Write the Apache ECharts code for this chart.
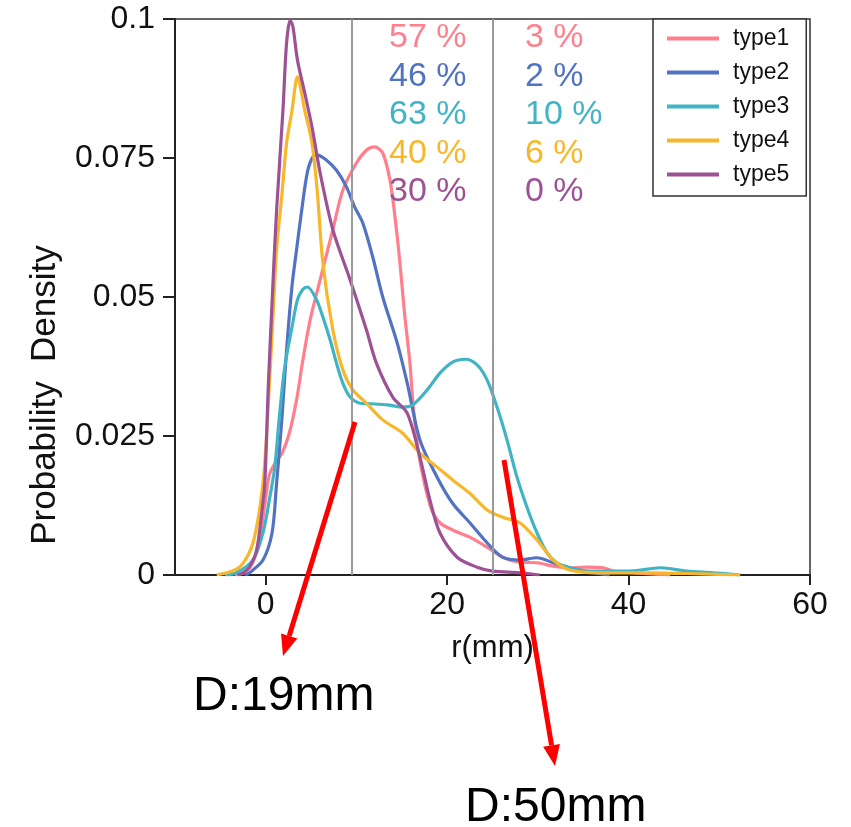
<!DOCTYPE html>
<html>
<head>
<meta charset="utf-8">
<script src="https://cdn.jsdelivr.net/npm/echarts@6/dist/echarts.min.js"></script>
<style>
  html, body { margin: 0; padding: 0; background: #fff; }
  #chart { width: 851px; height: 827px; }
</style>
</head>
<body>
<div id="chart"></div>
<script>
// names / colours
const typeNames = ['type1', 'type2', 'type3', 'type4', 'type5']
const typeColors = ['#ff7f8c', '#5272c2', '#40b4c4', '#f8b72a', '#9c5294']

// density curves, [r(mm), density]
const type1 = [[-3.4, 0], [-2.3, 0.0005], [-1.4, 0.0023], [-0.7, 0.0063], [-0.1, 0.0126], [0.4, 0.018],
  [1.1, 0.0203], [1.8, 0.0219], [2.6, 0.0255], [3.4, 0.0315], [4.1, 0.0387], [4.9, 0.0459], [6.0, 0.0531],
  [7.4, 0.0621], [8.5, 0.0692], [10.0, 0.0741], [11.1, 0.0764], [12.0, 0.077], [12.9, 0.0759], [13.7, 0.071],
  [14.2, 0.0651], [14.8, 0.0561], [15.3, 0.0471], [15.9, 0.0381], [16.2, 0.0315], [16.8, 0.0225], [17.5, 0.0165],
  [18.3, 0.0117], [19.2, 0.0094], [20.6, 0.0081], [22.5, 0.0068], [24.4, 0.005], [26.1, 0.0032], [28.0, 0.0023],
  [29.9, 0.0022], [31.7, 0.0016], [33.5, 0.0013], [35.4, 0.0014], [37.2, 0.0013], [38.3, 0.0007], [39.8, 0.0005],
  [42.4, 0.0002], [44.6, 0]]
const type2 = [[-2.3, 0], [-1.8, 0.0004], [-0.3, 0.0027], [0.7, 0.0076], [1.2, 0.0165], [1.8, 0.0284],
  [2.3, 0.0405], [2.9, 0.052], [3.4, 0.0585], [4.0, 0.066], [4.6, 0.0725], [5.2, 0.0752], [5.7, 0.0755],
  [6.7, 0.0746], [7.8, 0.0728], [8.9, 0.0698], [9.8, 0.0662], [10.7, 0.0633], [11.8, 0.0572], [12.9, 0.05],
  [14.5, 0.0417], [15.6, 0.0345], [17.0, 0.0243], [18.9, 0.0176], [20.6, 0.0129], [22.5, 0.0094], [24.4, 0.0058],
  [26.1, 0.0032], [28.0, 0.0027], [29.9, 0.0031], [31.7, 0.0022], [33.5, 0.0013], [35.7, 0.0005], [37.9, 0]]
const type3 = [[-4.5, 0], [-3.2, 0.0004], [-1.4, 0.0027], [-0.3, 0.0076], [0.4, 0.0135], [1.0, 0.0194],
  [1.5, 0.0284], [2.1, 0.0374], [2.9, 0.0446], [3.5, 0.0495], [4.1, 0.0514], [4.6, 0.0518], [5.6, 0.0495],
  [6.3, 0.0464], [7.1, 0.0423], [7.8, 0.0381], [8.5, 0.0345], [9.3, 0.032], [10.4, 0.0309], [11.5, 0.0308],
  [13.4, 0.0306], [15.1, 0.0302], [16.2, 0.0306], [17.8, 0.0333], [19.2, 0.0363], [20.6, 0.0383], [22.0, 0.0388],
  [23.3, 0.0378], [24.4, 0.0351], [25.5, 0.0302], [26.6, 0.0243], [27.7, 0.0176], [28.8, 0.0122], [29.9, 0.0076],
  [31.0, 0.004], [32.1, 0.0022], [33.5, 0.0013], [35.7, 0.0007], [40.2, 0.0007], [43.5, 0.0013], [46.4, 0.0007],
  [49.3, 0.0004], [52.3, 0]]
const type4 = [[-5.4, 0], [-2.9, 0.0014], [-1.4, 0.0058], [-0.3, 0.0165], [0.2, 0.0284], [0.8, 0.0464],
  [1.2, 0.0585], [1.8, 0.0687], [2.3, 0.0777], [2.9, 0.0836], [3.5, 0.0896], [4.3, 0.0836], [5.1, 0.0777],
  [5.7, 0.0687], [6.3, 0.0561], [7.4, 0.0441], [8.5, 0.0369], [9.6, 0.0333], [11.1, 0.0309], [12.9, 0.0279],
  [15.1, 0.0255], [17.0, 0.0219], [18.9, 0.0194], [20.6, 0.0171], [22.5, 0.0147], [24.4, 0.0117], [26.1, 0.0104],
  [28.0, 0.0094], [29.9, 0.0063], [31.7, 0.0027], [33.5, 0.0009], [36.8, 0.0004], [42.4, 0.0004], [47.9, 0.0002],
  [52.3, 0]]
const type5 = [[-3.1, 0], [-2.5, 0.0004], [-1.8, 0.0014], [-1.0, 0.0045], [-0.4, 0.0117], [-0.1, 0.0165],
  [0.3, 0.0345], [0.8, 0.0525], [1.2, 0.0656], [1.9, 0.0836], [2.3, 0.0957], [2.7, 0.0998], [3.0, 0.0986],
  [3.5, 0.0926], [4.3, 0.0867], [5.1, 0.0806], [6.0, 0.0723], [7.4, 0.0621], [9.3, 0.0531], [11.1, 0.0441],
  [12.2, 0.0381], [14.0, 0.032], [15.6, 0.0291], [17.0, 0.0212], [18.1, 0.0135], [19.2, 0.0076], [21.1, 0.0032],
  [23.3, 0.0014], [25.0, 0.0007], [28.0, 0.0004], [30.2, 0]]
const curves = [type1, type2, type3, type4, type5]

// share below 9.5 mm and above 25 mm
const pctSmall = [57, 46, 63, 40, 30]
const pctLarge = [3, 2, 10, 6, 0]
const cutLines = [9.5, 25]
const cutLabels = ['D:19mm', 'D:50mm']

const xTicks = [0, 20, 40, 60]

const font = 'Liberation Sans, Arial, Helvetica, sans-serif'

// arrows drawn in pixels, start -> tip
const arrows = [
  { from: [355, 422], to: [283, 656], label: [193, 697] },
  { from: [504, 460], to: [555, 766], label: [465, 808] }
]

function arrowGraphics () {
  let out = []
  arrows.forEach((a, i) => {
    let dx = a.to[0] - a.from[0]
    let dy = a.to[1] - a.from[1]
    let len = Math.sqrt(dx * dx + dy * dy)
    let ux = dx / len
    let uy = dy / len
    let headLen = 21
    let half = 8.5
    let bx = a.to[0] - ux * headLen
    let by = a.to[1] - uy * headLen
    out.push({
      type: 'line',
      shape: { x1: a.from[0], y1: a.from[1], x2: bx, y2: by },
      style: { stroke: '#ff0000', lineWidth: 5 },
      z: 100
    })
    out.push({
      type: 'polygon',
      shape: { points: [[a.to[0], a.to[1]], [bx - uy * half, by + ux * half], [bx + uy * half, by - ux * half]] },
      style: { fill: '#ff0000' },
      z: 100
    })
    out.push({
      type: 'text',
      x: a.label[0],
      y: a.label[1],
      style: { text: cutLabels[i], font: '48px ' + font, fill: '#000', textAlign: 'left', textVerticalAlign: 'middle' },
      z: 100
    })
  })
  return out
}

function pctGraphics () {
  let out = []
  pctSmall.forEach((v, i) => {
    out.push({
      type: 'text', x: 389, y: 38 + i * 38.4,
      style: { text: v + ' %', font: '34px ' + font, fill: typeColors[i], textAlign: 'left', textVerticalAlign: 'middle' },
      z: 50
    })
    out.push({
      type: 'text', x: 525, y: 38 + i * 38.4,
      style: { text: pctLarge[i] + ' %', font: '34px ' + font, fill: typeColors[i], textAlign: 'left', textVerticalAlign: 'middle' },
      z: 50
    })
  })
  return out
}

let chart = echarts.init(document.getElementById('chart'), null, { renderer: 'canvas' })

let series = curves.map((c, i) => ({
  name: typeNames[i],
  type: 'line',
  data: c,
  smooth: 0.3,
  showSymbol: false,
  symbol: 'none',
  lineStyle: { color: typeColors[i], width: 3.2 },
  itemStyle: { color: typeColors[i] },
  z: 3
}))

series.push({
  name: 'cuts',
  type: 'line',
  data: [],
  silent: true,
  z: 1,
  markLine: {
    silent: true,
    symbol: 'none',
    label: { show: false },
    lineStyle: { color: '#9a9a9a', width: 2, type: 'solid' },
    data: cutLines.map(v => ({ xAxis: v }))
  }
})

let option = {
  animation: false,
  backgroundColor: '#fff',
  textStyle: { fontFamily: font },
  grid: {
    left: 175,
    right: 41,
    top: 19,
    bottom: 252,
    show: true,
    borderColor: '#333',
    borderWidth: 1.5,
    containLabel: false
  },
  legend: {
    data: typeNames,
    orient: 'vertical',
    left: 653,
    top: 19,
    icon: 'rect',
    itemWidth: 52,
    itemHeight: 4,
    itemGap: 11,
    padding: [8, 17, 10, 14],
    borderColor: '#333',
    borderWidth: 1.5,
    backgroundColor: '#fff',
    textStyle: { fontSize: 23, color: '#111', lineHeight: 22, padding: [0, 0, 0, 9], fontFamily: font }
  },
  xAxis: {
    type: 'value',
    min: -10,
    max: 60,
    name: 'r(mm)',
    nameLocation: 'middle',
    nameGap: 58,
    nameTextStyle: { fontSize: 31, color: '#111' },
    axisLine: { onZero: false, lineStyle: { color: '#222', width: 2 } },
    axisTick: { inside: false, length: 10, lineStyle: { color: '#222', width: 2 }, customValues: xTicks },
    axisLabel: { fontSize: 32, color: '#111', margin: 14, customValues: xTicks },
    splitLine: { show: false }
  },
  yAxis: {
    type: 'value',
    min: 0,
    max: 0.1,
    interval: 0.025,
    axisLine: { show: true, onZero: false, lineStyle: { color: '#222', width: 2 } },
    axisTick: { show: true, inside: false, length: 12, lineStyle: { color: '#222', width: 2 } },
    axisLabel: { fontSize: 32, color: '#111', margin: 20 },
    splitLine: { show: false }
  },
  graphic: [
    {
      type: 'text',
      x: 45,
      y: 395,
      rotation: Math.PI / 2,
      style: { text: 'Probability  Density', font: '35px ' + font, fill: '#111', textAlign: 'center', textVerticalAlign: 'middle' }
    }
  ].concat(pctGraphics(), arrowGraphics()),
  series: series
}

chart.setOption(option)
</script>
</body>
</html>
